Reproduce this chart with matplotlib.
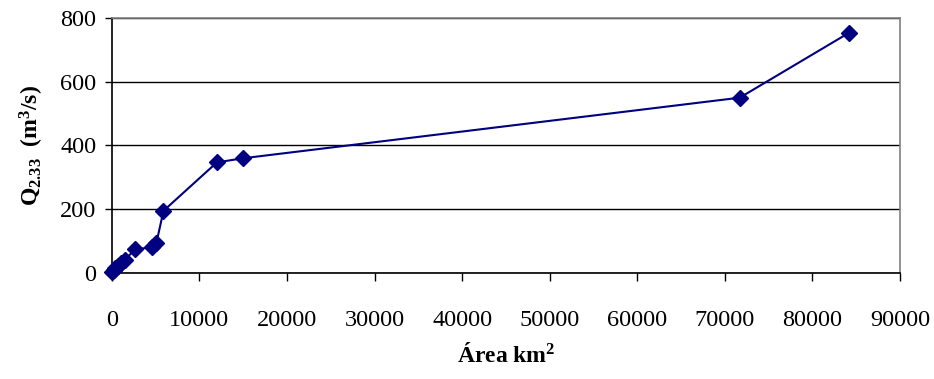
import matplotlib.pyplot as plt

# data
area_km2 = [50, 200, 400, 700, 1000, 1500, 2700, 4600, 5100, 5900, 12000, 15000, 71700, 84200]
q_233 = [3, 8, 15, 22, 30, 42, 75, 80, 95, 195, 347, 360, 550, 754]
x_ticks = [0, 10000, 20000, 30000, 40000, 50000, 60000, 70000, 80000, 90000]
y_ticks = [0, 200, 400, 600, 800]

plt.rcParams['font.family'] = ['Liberation Serif', 'DejaVu Serif']
plt.rcParams['mathtext.fontset'] = 'custom'
plt.rcParams['mathtext.rm'] = 'Liberation Serif:bold'
plt.rcParams['mathtext.it'] = 'Liberation Serif:bold'
plt.rcParams['mathtext.bf'] = 'Liberation Serif:bold'

fig = plt.figure(figsize=(9.34, 3.79), dpi=100)
ax = fig.add_axes([0.1197, 0.2797, 0.8439, 0.6728])

ax.plot(area_km2, q_233, color='#000080', linewidth=1.5, marker='D',
        markersize=8.5, markerfacecolor='#000080', markeredgecolor='#000080',
        clip_on=False, zorder=3)

ax.set_xlim(0, 90000)
ax.set_ylim(0, 800)
ax.set_xticks(x_ticks)
ax.set_yticks(y_ticks)
ax.set_xticklabels([str(v) for v in x_ticks])
ax.set_yticklabels([str(v) for v in y_ticks])

ax.yaxis.grid(True, color='black', linewidth=1)
ax.set_axisbelow(True)

for side in ['top', 'right']:
    ax.spines[side].set_color('#808080')
    ax.spines[side].set_linewidth(1.2)
for side in ['left', 'bottom']:
    ax.spines[side].set_color('black')
    ax.spines[side].set_linewidth(1.2)

ax.tick_params(axis='x', direction='out', length=6, width=1, pad=21, labelsize=17.5)
ax.tick_params(axis='y', direction='out', length=5, width=1, pad=6, labelsize=17.5)

ax.set_xlabel('Área km$^2$', fontsize=17, fontweight='bold', labelpad=8)
ax.set_ylabel(r'Q$_{2.33}$  (m$^3$/s)', fontsize=17, fontweight='bold', labelpad=10)

fig.savefig('out.png', dpi=100)
